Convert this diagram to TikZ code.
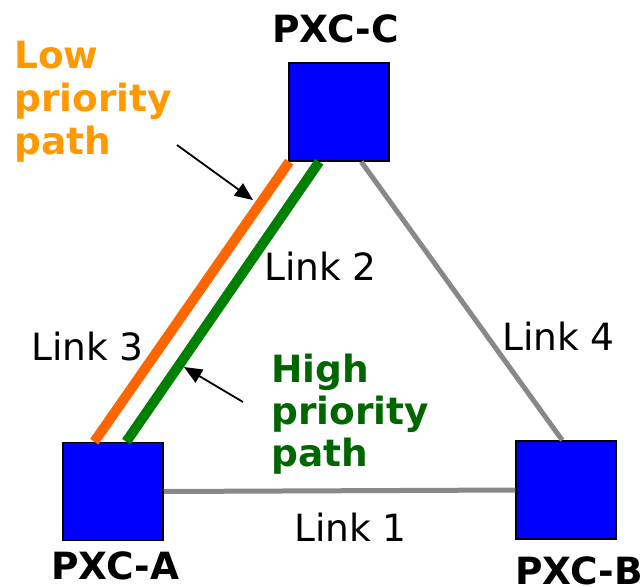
\documentclass[tikz,border=0pt]{standalone}
\usepackage{fontspec}
\setmainfont{DejaVu Sans}
\usepackage{tikz}
\usetikzlibrary{arrows.meta}
\definecolor{pxcblue}{HTML}{0000FF}
\definecolor{loworange}{HTML}{FF6600}
\definecolor{lowtext}{HTML}{FF9900}
\definecolor{highgreen}{HTML}{008000}
\definecolor{hightext}{HTML}{006600}
\definecolor{linkgray}{HTML}{888888}
\tikzset{
    pxc/.style={draw=black, fill=pxcblue, line width=1.5pt, minimum width=100pt, minimum height=98pt, inner sep=0pt},
    txt/.style={inner sep=0pt, anchor=base west, align=left, font=\fontsize{37.5}{43}\selectfont},
    bold/.style={txt, font=\fontsize{37.5}{43}\selectfont\bfseries},
    fiber/.style={line width=10pt, line cap=butt},
    pointer/.style={line width=1.8pt, -{Triangle[length=18pt,width=15pt]}}
}
\begin{document}
\begin{tikzpicture}[x=1pt, y=-1pt]
        \useasboundingbox (0,0) rectangle (644,586);
        \node [pxc] (pxcC) at (339,112) {};
        \node [pxc] (pxcA) at (113,491.5) {};
        \node [pxc] (pxcB) at (566,490) {};
        \node [bold] (nameC) at (272,43) {PXC-C};
        \node [bold] (nameA) at (51,579) {PXC-A};
        \node [bold] (nameB) at (515,584) {PXC-B};
        \node [txt] (link1) at (294,541) {Link 1};
        \node [txt] (link2) at (264,280) {Link 2};
        \node [txt] (link3) at (31,360) {Link 3};
        \node [txt] (link4) at (502,350) {Link 4};
        % base anchor sits on the last line
        \node [bold, text=lowtext] (low) at (14,154) {Low\\priority\\path};
        \node [bold, text=hightext, font=\fontsize{37.5}{42}\selectfont\bfseries] (high) at (271,466) {High\\priority\\path};
        \coordinate (lowtail) at (177,145);
        \coordinate (lowtip) at (253,200);
        \coordinate (hightail) at (243,402);
        \coordinate (hightip) at (184,367);
        \draw [line width=5pt][color=linkgray] (pxcA.east) -- (pxcB.west);
        \draw [line width=5pt][color=linkgray] ([xshift=73pt]pxcC.south west) -- ([xshift=47pt]pxcB.north west);
        \draw [fiber][color=loworange] ([xshift=1pt]pxcC.south west) -- ([xshift=32pt]pxcA.north west);
        \draw [fiber][color=highgreen] ([xshift=31pt]pxcC.south west) -- ([xshift=64pt]pxcA.north west);
        \draw [pointer] (lowtail) -- (lowtip);
        \draw [pointer] (hightail) -- (hightip);
    \end{tikzpicture}
\end{document}
